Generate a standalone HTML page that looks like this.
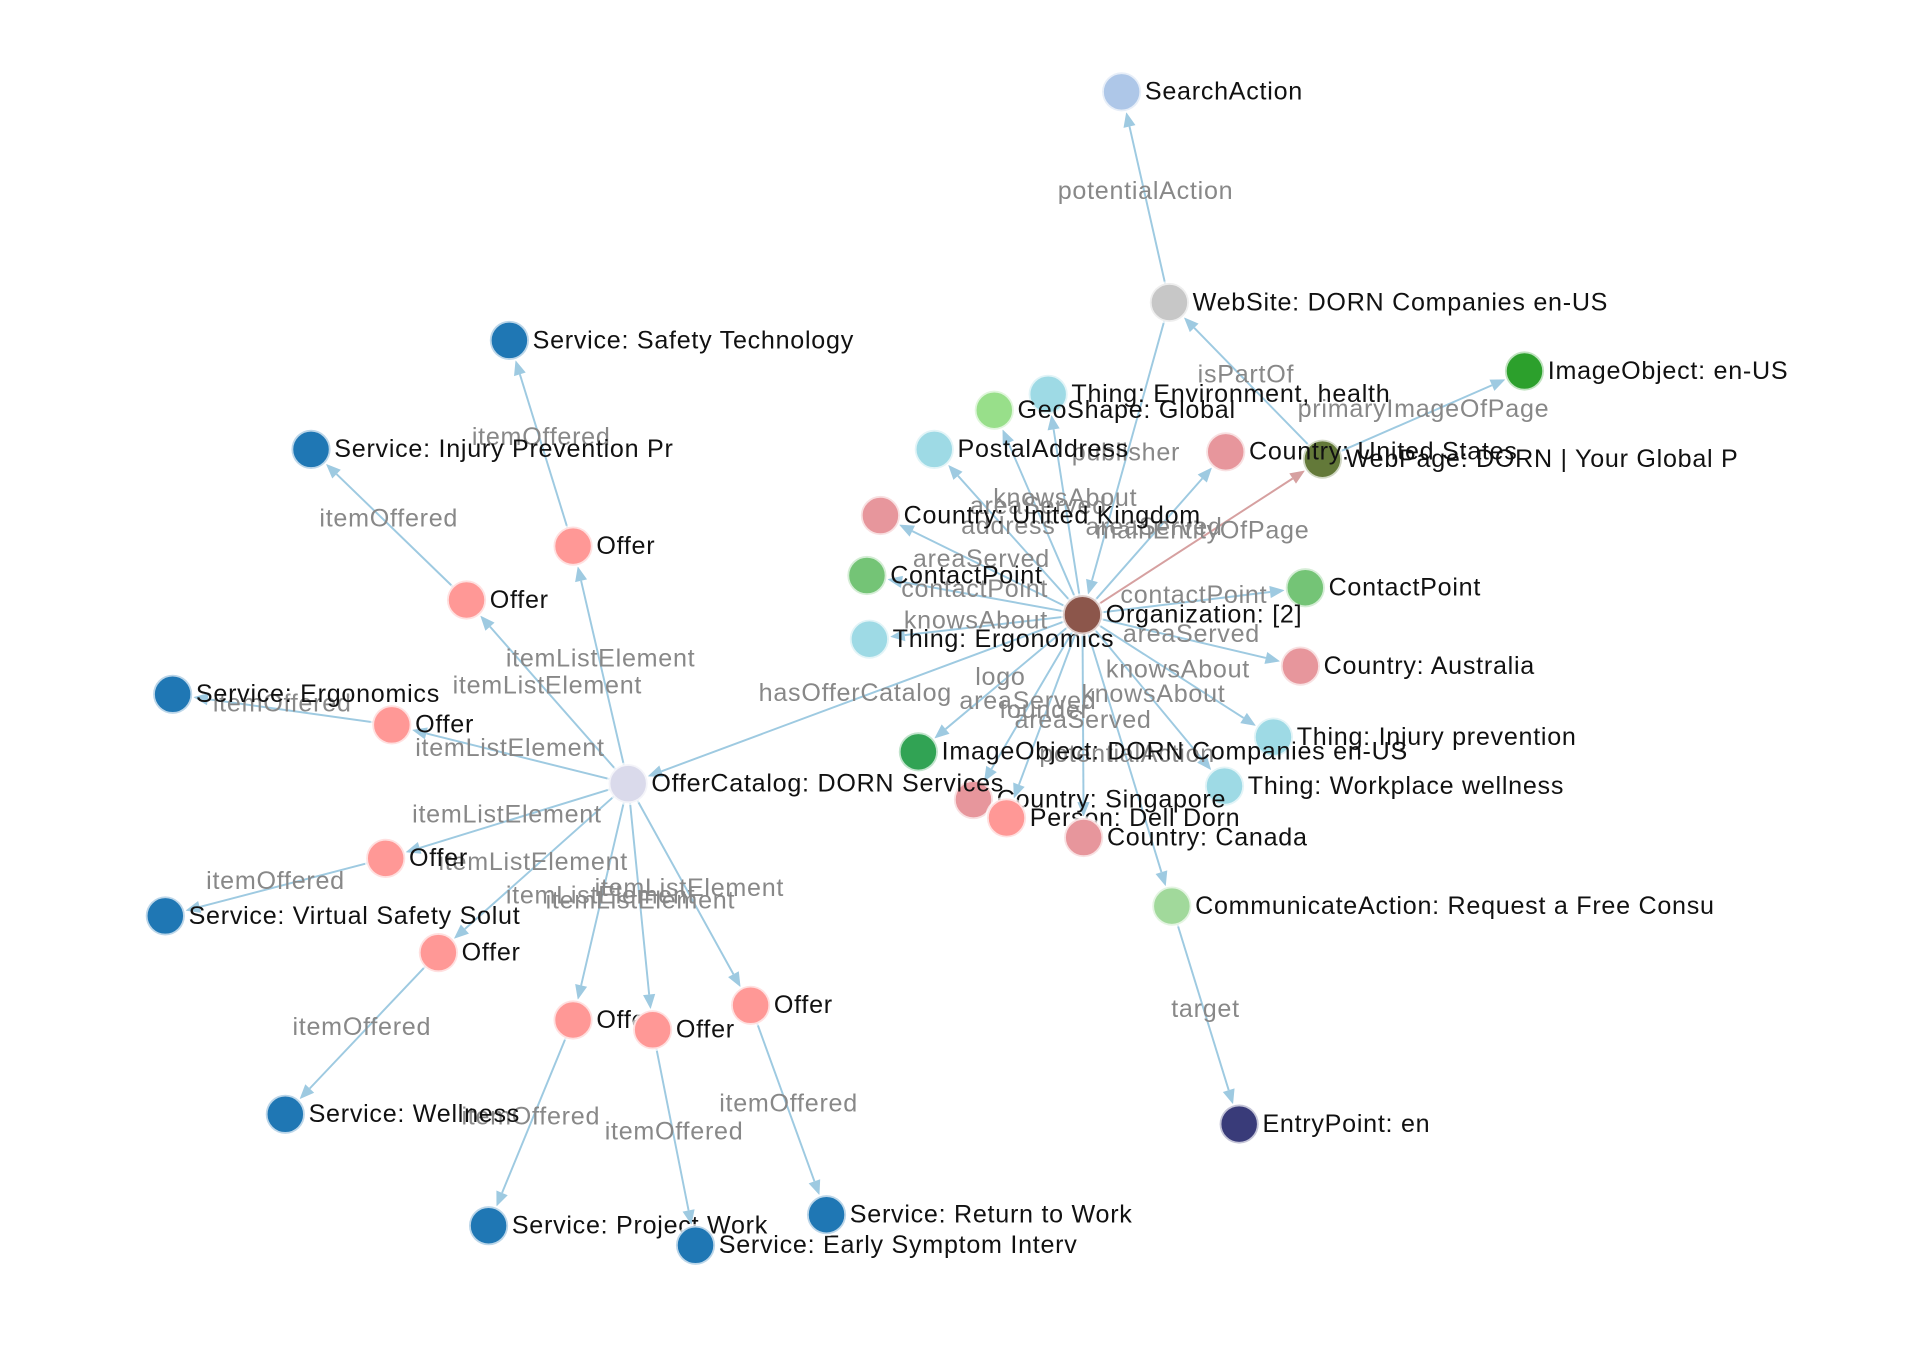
<!DOCTYPE html>
<html><head><meta charset="utf-8"><style>
html,body{margin:0;padding:0;background:#fff;}
svg{display:block;}
text{font-family:"Liberation Sans",sans-serif;}
</style></head><body>
<svg id="s" width="1920" height="1350" viewBox="0 0 1568 1102.5" xmlns="http://www.w3.org/2000/svg">
<g id="E"></g><g id="L"></g><g id="N"></g>
</svg>
<script>
var N={
SA:[916,75,'#aec7e8','SearchAction'],
WS:[955,247,'#c7c7c7','WebSite: DORN Companies en-US'],
IE:[1245,303,'#2ca02c','ImageObject: en-US'],
WP:[1080,375,'#637939','WebPage: DORN | Your Global P'],
TE:[856,322,'#9edae5','Thing: Environment, health'],
GS:[812,335,'#98df8a','GeoShape: Global'],
PA:[763,367,'#9edae5','PostalAddress'],
US:[1001,369,'#e7969c','Country: United States'],
UK:[719,421,'#e7969c','Country: United Kingdom'],
CL:[708,470,'#74c476','ContactPoint'],
CR:[1066,480,'#74c476','ContactPoint'],
TG:[710,522,'#9edae5','Thing: Ergonomics'],
OR:[884,502,'#8c564b','Organization: [2]'],
AU:[1062,544,'#e7969c','Country: Australia'],
IP:[1040,602,'#9edae5','Thing: Injury prevention'],
ID:[750,614,'#31a354','ImageObject: DORN Companies en-US'],
WW:[1000,642,'#9edae5','Thing: Workplace wellness'],
SG:[795,653,'#e7969c','Country: Singapore'],
PD:[822,668,'#ff9896','Person: Dell Dorn'],
CA:[885,684,'#e7969c','Country: Canada'],
CM:[957,740,'#a1d99b','CommunicateAction: Request a Free Consu'],
EP:[1012,918,'#393b79','EntryPoint: en'],
OC:[513,640,'#dadaeb','OfferCatalog: DORN Services'],
O1:[468,446,'#ff9896','Offer'],O2:[381,490,'#ff9896','Offer'],O3:[320,592,'#ff9896','Offer'],
O4:[315,701,'#ff9896','Offer'],O5:[358,778,'#ff9896','Offer'],O6:[468,833,'#ff9896','Offer'],
O7:[533,841,'#ff9896','Offer'],O8:[613,821,'#ff9896','Offer'],
S1:[416,278,'#1f77b4','Service: Safety Technology'],S2:[254,367,'#1f77b4','Service: Injury Prevention Pr'],
S3:[141,567,'#1f77b4','Service: Ergonomics'],S4:[135,748,'#1f77b4','Service: Virtual Safety Solut'],
S5:[233,910,'#1f77b4','Service: Wellness'],S6:[399,1001,'#1f77b4','Service: Project Work'],
S7:[568,1017,'#1f77b4','Service: Early Symptom Interv'],S8:[675,992,'#1f77b4','Service: Return to Work']
};
var E=[['WS','SA','potentialAction'],['WP','WS','isPartOf'],['WP','IE','primaryImageOfPage'],
['WS','OR','publisher'],['OR','WP','mainEntityOfPage',1],['OR','TE','knowsAbout'],['OR','GS','areaServed'],
['OR','PA','address'],['OR','US','areaServed'],['OR','UK','areaServed'],['OR','CL','contactPoint'],
['OR','CR','contactPoint'],['OR','TG','knowsAbout'],['OR','AU','areaServed'],['OR','IP','knowsAbout'],
['OR','ID','logo'],['OR','WW','knowsAbout'],['OR','SG','areaServed'],['OR','PD','founder'],['OR','CA','areaServed'],
['OR','CM','potentialAction'],['CM','EP','target'],['OR','OC','hasOfferCatalog']];
for(var i=1;i<=8;i++){E.push(['OC','O'+i,'itemListElement']);E.push(['O'+i,'S'+i,'itemOffered']);}
var ns='http://www.w3.org/2000/svg';
function el(t,a,p,txt){var e=document.createElementNS(ns,t);for(var k in a)e.setAttribute(k,a[k]);if(txt)e.textContent=txt;document.getElementById(p).appendChild(e);}
var R=16;
E.forEach(function(e){var a=N[e[0]],b=N[e[1]];var dx=b[0]-a[0],dy=b[1]-a[1],d=Math.sqrt(dx*dx+dy*dy),ux=dx/d,uy=dy/d;
var c=e[3]?'#d6a0a0':'#9ecae1';
var tx=b[0]-ux*(R+1),ty=b[1]-uy*(R+1),bx=tx-ux*12,by=ty-uy*12;
el('line',{x1:a[0],y1:a[1],x2:bx,y2:by,stroke:c,'stroke-width':1.6},'E');
el('polygon',{points:tx+','+ty+' '+(bx-uy*5)+','+(by+ux*5)+' '+(bx+uy*5)+','+(by-ux*5),fill:c},'E');
el('text',{x:(a[0]+b[0])/2,y:(a[1]+b[1])/2-4,'text-anchor':'middle','dominant-baseline':'middle','font-size':20.5,'letter-spacing':0.6,fill:'#888'},'L',e[2]);});
for(var k in N){var n=N[k];el('circle',{cx:n[0],cy:n[1],r:R,fill:n[2],stroke:'#fff','stroke-opacity':0.7,'stroke-width':3},'N');
el('text',{x:n[0]+R+3,y:n[1]+1,'dominant-baseline':'middle','font-size':20.5,'letter-spacing':0.6,fill:'#111'},'N',n[3]);}
</script>
</body></html>
